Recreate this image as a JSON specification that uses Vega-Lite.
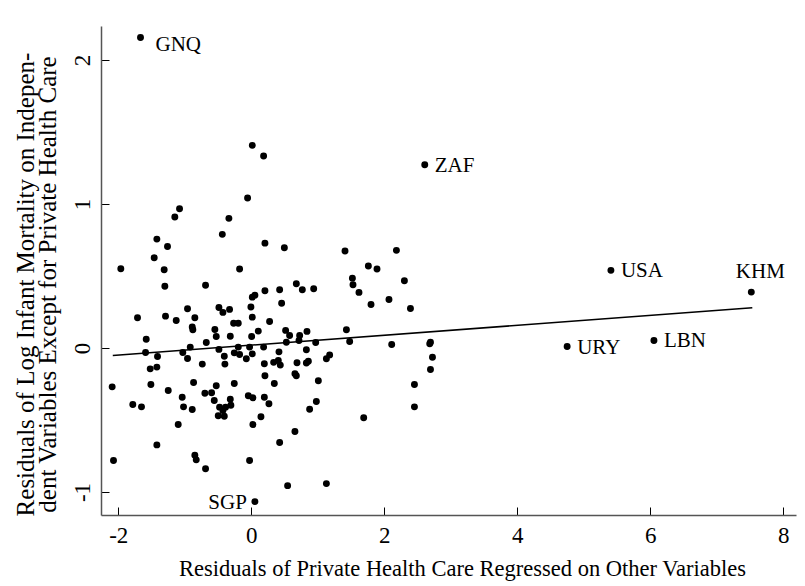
{
"$schema": "https://vega.github.io/schema/vega-lite/v6.json",
"autosize": "none",
"width": 695,
"height": 489,
"padding": {"left": 101, "top": 26, "right": 9, "bottom": 71},
"background": "white",
"config": {"view": {"stroke": null}, "font": "Liberation Serif"},
"datasets": {
"pts": [
{"c":"GNQ","x":-1.666,"y":2.156},{"c":"","x":0.015,"y":1.407},{"c":"","x":0.185,"y":1.333},{"c":"","x":-0.056,"y":1.041},{"c":"","x":-1.079,"y":0.967},{"c":"","x":-1.15,"y":0.909},{"c":"","x":-0.337,"y":0.9},{"c":"","x":-0.436,"y":0.789},{"c":"","x":-1.42,"y":0.756},{"c":"","x":-1.26,"y":0.705},{"c":"","x":0.205,"y":0.728},{"c":"","x":0.497,"y":0.696},{"c":"","x":-1.46,"y":0.627},{"c":"","x":1.409,"y":0.673},{"c":"","x":2.182,"y":0.678},{"c":"","x":1.76,"y":0.569},{"c":"","x":1.89,"y":0.548},{"c":"","x":-1.962,"y":0.55},{"c":"","x":-1.31,"y":0.543},{"c":"","x":-0.176,"y":0.548},
{"c":"ZAF","x":2.608,"y":1.273},
{"c":"","x":-1.30,"y":0.429},{"c":"","x":-0.688,"y":0.436},{"c":"","x":1.52,"y":0.485},{"c":"","x":1.529,"y":0.439},{"c":"","x":1.619,"y":0.386},{"c":"","x":2.302,"y":0.467},{"c":"","x":2.07,"y":0.337},{"c":"","x":1.80,"y":0.302},{"c":"","x":2.393,"y":0.274},{"c":"","x":0.677,"y":0.446},{"c":"","x":0.767,"y":0.404},{"c":"","x":0.938,"y":0.411},{"c":"","x":0.426,"y":0.404},{"c":"","x":0.205,"y":0.397},{"c":"","x":0.054,"y":0.367},{"c":"","x":0.015,"y":0.353},{"c":"","x":0.456,"y":0.311},{"c":"","x":-0.006,"y":0.284},{"c":"","x":0.015,"y":0.214},{"c":"","x":0.275,"y":0.184},{"c":"","x":-0.487,"y":0.281},{"c":"","x":-0.427,"y":0.247},{"c":"","x":-0.327,"y":0.268},{"c":"","x":-0.959,"y":0.272},{"c":"","x":-0.849,"y":0.21},{"c":"","x":-1.711,"y":0.21},{"c":"","x":-1.29,"y":0.221},{"c":"","x":-1.129,"y":0.191},{"c":"","x":-0.266,"y":0.172},{"c":"","x":-0.196,"y":0.172},{"c":"","x":-0.888,"y":0.145},{"c":"","x":-0.879,"y":0.126},{"c":"","x":-0.548,"y":0.128},{"c":"","x":0.105,"y":0.117},{"c":"","x":0.516,"y":0.122},{"c":"","x":0.837,"y":0.115},{"c":"","x":1.43,"y":0.126},{"c":"","x":-0.527,"y":0.08},{"c":"","x":-0.316,"y":0.082},{"c":"","x":0.005,"y":0.08},{"c":"","x":0.576,"y":0.087},{"c":"","x":0.727,"y":0.087},{"c":"","x":-1.58,"y":0.061},{"c":"","x":-0.677,"y":0.038},{"c":"","x":0.527,"y":0.04},{"c":"","x":0.717,"y":0.052},{"c":"","x":0.968,"y":0.038},{"c":"","x":1.479,"y":0.045},{"c":"","x":2.111,"y":0.024},{"c":"","x":2.694,"y":0.04},{"c":"","x":2.683,"y":0.029},{"c":"","x":-0.918,"y":0.006},{"c":"","x":-0.487,"y":-0.01},{"c":"","x":-0.196,"y":0.006},{"c":"","x":-0.026,"y":0.006},{"c":"","x":0.185,"y":0.006},{"c":"","x":-1.59,"y":-0.031},{"c":"","x":-1.03,"y":-0.031},{"c":"","x":-0.256,"y":-0.034},{"c":"","x":-0.176,"y":-0.045},{"c":"","x":0.015,"y":-0.041},{"c":"","x":0.416,"y":-0.027},{"c":"","x":0.828,"y":-0.013},{"c":"","x":-1.41,"y":-0.059},{"c":"","x":-0.406,"y":-0.057},{"c":"","x":-0.075,"y":-0.075},{"c":"","x":-0.959,"y":-0.073},{"c":"","x":1.178,"y":-0.048},{"c":"","x":1.129,"y":-0.075},{"c":"","x":2.724,"y":-0.064},{"c":"","x":-0.737,"y":-0.112},{"c":"","x":-0.397,"y":-0.112},{"c":"","x":0.196,"y":-0.11},{"c":"","x":0.336,"y":-0.1},{"c":"","x":0.406,"y":-0.087},{"c":"","x":0.436,"y":-0.119},{"c":"","x":0.687,"y":-0.103},{"c":"","x":0.858,"y":-0.092},{"c":"","x":0.828,"y":-0.105},{"c":"","x":-1.42,"y":-0.133},{"c":"","x":-1.52,"y":-0.145},{"c":"","x":2.694,"y":-0.149},{"c":"","x":0.205,"y":-0.193},{"c":"","x":0.656,"y":-0.179},{"c":"","x":0.677,"y":-0.193},{"c":"","x":-1.51,"y":-0.254},{"c":"","x":-0.868,"y":-0.24},{"c":"","x":-0.527,"y":-0.263},{"c":"","x":-0.256,"y":-0.247},{"c":"","x":0.346,"y":-0.247},{"c":"","x":1.008,"y":-0.228},{"c":"","x":2.453,"y":-0.254},{"c":"","x":-2.092,"y":-0.27},{"c":"","x":-1.249,"y":-0.295},{"c":"","x":-0.698,"y":-0.314},{"c":"","x":-0.597,"y":-0.311},{"c":"","x":-1.039,"y":-0.342},{"c":"","x":-0.045,"y":-0.332},{"c":"","x":0.024,"y":-0.346},{"c":"","x":0.196,"y":-0.342},{"c":"","x":-0.557,"y":-0.365},{"c":"","x":-0.316,"y":-0.356},{"c":"","x":-0.307,"y":-0.398},{"c":"","x":0.265,"y":-0.388},{"c":"","x":0.978,"y":-0.372},{"c":"","x":-1.782,"y":-0.393},{"c":"","x":-1.651,"y":-0.409},{"c":"","x":-1.019,"y":-0.409},{"c":"","x":-0.888,"y":-0.427},{"c":"","x":-0.477,"y":-0.411},{"c":"","x":-0.387,"y":-0.411},{"c":"","x":-0.427,"y":-0.434},{"c":"","x":0.877,"y":-0.425},{"c":"","x":2.453,"y":-0.409},{"c":"","x":-0.497,"y":-0.471},{"c":"","x":-0.406,"y":-0.474},{"c":"","x":0.145,"y":-0.478},{"c":"","x":1.69,"y":-0.485},{"c":"","x":-1.099,"y":-0.532},{"c":"","x":0.024,"y":-0.532},{"c":"","x":0.656,"y":-0.58},{"c":"","x":0.426,"y":-0.657},{"c":"","x":-1.42,"y":-0.673},{"c":"","x":-0.849,"y":-0.745},{"c":"","x":-0.828,"y":-0.777},{"c":"","x":-2.072,"y":-0.782},{"c":"","x":-0.026,"y":-0.782},{"c":"","x":-0.688,"y":-0.839},{"c":"","x":0.546,"y":-0.956},{"c":"","x":1.129,"y":-0.942},
{"c":"SGP","x":0.054,"y":-1.067},{"c":"USA","x":5.407,"y":0.539},{"c":"KHM","x":7.518,"y":0.388},{"c":"URY","x":4.749,"y":0.01},{"c":"LBN","x":6.054,"y":0.052}
],
"fit": [{"x":-2.083,"y":-0.052},{"x":7.533,"y":0.279}]
},
"encoding": {
  "x": {"field": "x", "type": "quantitative",
    "scale": {"domain": [-2.26, 8.19], "nice": false, "zero": false},
    "axis": {"values": [-2,0,2,4,6,8], "grid": false, "title": "Residuals of Private Health Care Regressed on Other Variables",
      "labelExpr": "datum.value < 0 ? '-' + abs(datum.value) : '' + datum.value",
      "domainColor": "#555555", "domainWidth": 1.5, "tickColor": "#000000", "tickSize": -8, "tickWidth": 1,
      "labelBaseline": "alphabetic", "labelPadding": 35, "labelFontSize": 23, "labelColor": "#000000", "labelFont": "Liberation Serif",
      "titleFont": "Liberation Serif", "titleFontSize": 22.5, "titleFontWeight": "normal", "titleColor": "#000000",
      "titleBaseline": "alphabetic", "titleX": 361, "titleY": 60, "titleAnchor": "middle", "titleAlign": "center"}},
  "y": {"field": "y", "type": "quantitative",
    "scale": {"domain": [-1.16, 2.236], "nice": false, "zero": false},
    "axis": {"values": [-1,0,1,2], "grid": false,
      "labelExpr": "datum.value < 0 ? '-' + abs(datum.value) : '' + datum.value",
      "title": ["Residuals of Log Infant Mortality on Indepen-", "dent Variables Except for Private Health Care"],
      "domainColor": "#555555", "domainWidth": 1.5, "tickColor": "#000000", "tickSize": -8, "tickWidth": 1,
      "labelAngle": -90, "labelAlign": "center", "labelBaseline": "alphabetic", "labelPadding": 20,
      "labelFontSize": 23, "labelColor": "#000000", "labelFont": "Liberation Serif",
      "titleFont": "Liberation Serif", "titleFontSize": 25, "titleFontWeight": "normal", "titleColor": "#000000",
      "titleLineHeight": 22, "titleAngle": -90, "titleBaseline": "alphabetic", "titleAlign": "center", "titleX": -68, "titleY": 258}}
},
"layer": [
  {"data": {"name": "pts"}, "mark": {"type": "circle", "size": 48, "color": "#000000", "opacity": 1}},
  {"data": {"name": "fit"}, "mark": {"type": "line", "color": "#000000", "strokeWidth": 1.6}},
  {"data": {"name": "pts"}, "transform": [{"filter": "datum.c == 'ZAF' || datum.c == 'USA' || datum.c == 'URY' || datum.c == 'LBN'"}],
   "mark": {"type": "text", "align": "left", "baseline": "middle", "dx": 10, "dy": 1, "fontSize": 21, "font": "Liberation Serif", "color": "#000000"},
   "encoding": {"text": {"field": "c"}}},
  {"data": {"name": "pts"}, "transform": [{"filter": "datum.c == 'GNQ'"}],
   "mark": {"type": "text", "align": "left", "baseline": "middle", "dx": 15, "dy": 7, "fontSize": 21, "font": "Liberation Serif", "color": "#000000"},
   "encoding": {"text": {"field": "c"}}},
  {"data": {"name": "pts"}, "transform": [{"filter": "datum.c == 'KHM'"}],
   "mark": {"type": "text", "align": "center", "baseline": "middle", "dx": 9, "dy": -20, "fontSize": 21, "font": "Liberation Serif", "color": "#000000"},
   "encoding": {"text": {"field": "c"}}},
  {"data": {"name": "pts"}, "transform": [{"filter": "datum.c == 'SGP'"}],
   "mark": {"type": "text", "align": "right", "baseline": "middle", "dx": -8, "dy": 1, "fontSize": 21, "font": "Liberation Serif", "color": "#000000"},
   "encoding": {"text": {"field": "c"}}}
]
}
